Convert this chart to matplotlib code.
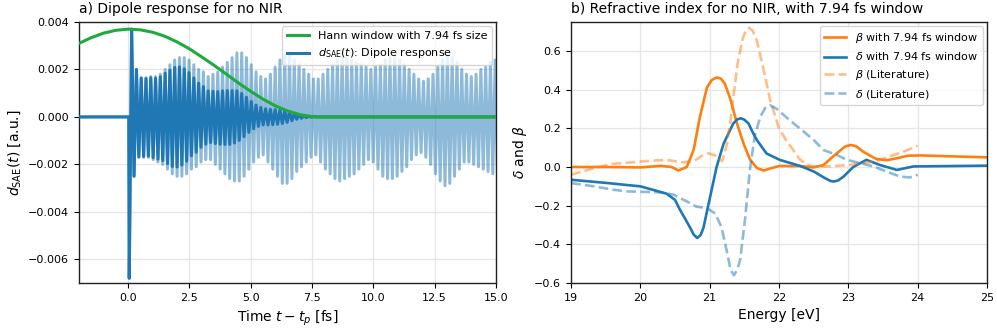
import numpy as np
import matplotlib
matplotlib.use("Agg")
import matplotlib.pyplot as plt
from matplotlib.lines import Line2D

# ---------------- data: panel a ----------------
time_start_fs = -2.0
time_end_fs = 15.6
first_cycle_fs = 0.05        # time of first (downward) spike
cycle_period_fs = 0.195      # carrier period read from the oscillation

# per-cycle extrema of the full dipole response (light blue)
light_bottom = [-0.0068, -0.0025, -0.0017, -0.0017, -0.0017, -0.0018, -0.0019, -0.0020, -0.0022, -0.0024,
                -0.0025, -0.0025, -0.0024, -0.0022, -0.0021, -0.0019, -0.0018, -0.0018, -0.0020, -0.0022,
                -0.0024, -0.0026, -0.0027, -0.0027, -0.0025, -0.0022, -0.0019, -0.0017, -0.0016, -0.0019,
                -0.0022, -0.0025, -0.0028, -0.0028, -0.0026, -0.0023, -0.0021, -0.0019, -0.0017, -0.0016,
                -0.0019, -0.0022, -0.0024, -0.0026, -0.0027, -0.0026, -0.0025, -0.0024, -0.0022, -0.0020,
                -0.0018, -0.0019, -0.0022, -0.0025, -0.0026, -0.0026, -0.0025, -0.0023, -0.0021, -0.0018,
                -0.0016, -0.0015, -0.0017, -0.0020, -0.0024, -0.0027, -0.0029, -0.0028, -0.0025, -0.0022,
                -0.0019, -0.0019, -0.0020, -0.0021, -0.0022, -0.0023, -0.0024, -0.0025]
light_top = [0.0037, 0.0020, 0.00165, 0.00165, 0.0017, 0.0017, 0.0018, 0.0020, 0.0022, 0.0024,
             0.0025, 0.0025, 0.0024, 0.0022, 0.0020, 0.0019, 0.0017, 0.0018, 0.0019, 0.0021,
             0.0023, 0.0025, 0.0027, 0.0027, 0.0025, 0.0022, 0.0019, 0.0017, 0.0016, 0.0018,
             0.0021, 0.0024, 0.0026, 0.0026, 0.0024, 0.0022, 0.0020, 0.0018, 0.0016, 0.0016,
             0.0018, 0.0020, 0.0022, 0.0024, 0.0025, 0.0025, 0.0024, 0.0023, 0.0022, 0.0021,
             0.0020, 0.0021, 0.0022, 0.0024, 0.0025, 0.0025, 0.0024, 0.0022, 0.0020, 0.0018,
             0.0016, 0.0015, 0.0016, 0.0018, 0.0021, 0.0024, 0.0026, 0.0025, 0.0023, 0.0020,
             0.0018, 0.0017, 0.0018, 0.0020, 0.0021, 0.0023, 0.0024, 0.0024]

# per-cycle extrema of the windowed dipole response (dark blue)
dark_bottom = [-0.0068, -0.0025, -0.00169, -0.00167, -0.00165, -0.00172, -0.00178, -0.00184, -0.00197, -0.00209,
               -0.00211, -0.00203, -0.00187, -0.00164, -0.00149, -0.00128, -0.00115, -0.00108, -0.00112, -0.00115,
               -0.00116, -0.00116, -0.00110, -0.00099, -0.00083, -0.00065, -0.00050, -0.00040, -0.00034, -0.00034,
               -0.00033, -0.00031, -0.00028, -0.00023, -0.00016, -0.00010, -0.00006, -0.00003, -0.00001, 0.0]
dark_top = [0.0037, 0.0020, 0.00164, 0.00162, 0.00165, 0.00163, 0.00169, 0.00184, 0.00197, 0.00209,
            0.00211, 0.00203, 0.00187, 0.00164, 0.00142, 0.00128, 0.00110, 0.00108, 0.00107, 0.00110,
            0.00111, 0.00111, 0.00110, 0.00099, 0.00083, 0.00065, 0.00050, 0.00040, 0.00034, 0.00032,
            0.00031, 0.00029, 0.00026, 0.00021, 0.00015, 0.00010, 0.00006, 0.00003, 0.00001, 0.0]

# Hann window (green)
hann_t = [-2.0, -1.5, -1.0, -0.5, 0.0, 0.5, 1.0, 1.5, 2.0, 2.5, 3.0, 3.5, 4.0, 4.5, 5.0,
          5.5, 6.0, 6.5, 7.0, 7.5, 7.8, 15.6]
hann_v = [0.0031, 0.00334, 0.00353, 0.00365, 0.0037, 0.00367, 0.00357, 0.0034, 0.00316, 0.00287,
          0.00253, 0.00218, 0.00181, 0.00143, 0.00108, 0.00075, 0.00047, 0.00025, 0.0001, 0.00001,
          0.0, 0.0]

# ---------------- data: panel b ----------------
beta_win_E = [19.0, 19.5, 20.0, 20.3, 20.45, 20.55, 20.67, 20.77, 20.86, 20.96, 21.03, 21.1, 21.16, 21.22,
              21.3, 21.39, 21.49, 21.58, 21.68, 21.78, 21.9, 22.0, 22.3, 22.5, 22.64, 22.83, 22.95, 23.03, 23.11,
              23.21, 23.4, 23.55, 23.7, 23.85, 24.04, 24.5, 25.0]
beta_win = [0.0, 0.0, -0.002, 0.006, 0.0, -0.018, 0.0, 0.09, 0.26, 0.41, 0.45, 0.463, 0.458, 0.43,
            0.35, 0.23, 0.12, 0.04, -0.005, -0.018, -0.005, 0.005, 0.005, -0.002, 0.01, 0.07, 0.105, 0.114, 0.108,
            0.08, 0.042, 0.035, 0.045, 0.058, 0.06, 0.055, 0.05]

delta_win_E = [19.0, 19.5, 20.0, 20.2, 20.38, 20.5, 20.57, 20.65, 20.72, 20.77, 20.82, 20.87, 20.91, 21.0, 21.1,
               21.2, 21.34, 21.4, 21.45, 21.5, 21.56, 21.62, 21.68, 21.82, 22.01, 22.3, 22.5, 22.65, 22.74, 22.79,
               22.85, 22.93, 23.07, 23.26, 23.46, 23.7, 23.94, 24.5, 25.0]
delta_win = [-0.066, -0.082, -0.10, -0.12, -0.138, -0.17, -0.22, -0.27, -0.315, -0.35, -0.367, -0.352, -0.315, -0.165, 0.0,
             0.12, 0.225, 0.247, 0.252, 0.245, 0.225, 0.18, 0.14, 0.07, 0.037, 0.006, -0.023, -0.055, -0.072, -0.075,
             -0.07, -0.05, 0.0, 0.037, 0.01, -0.015, 0.003, 0.005, 0.007]

beta_lit_E = [19.0, 19.33, 19.6, 20.0, 20.24, 20.43, 20.62, 20.77, 20.91, 20.98, 21.08, 21.18, 21.25,
              21.3, 21.4, 21.48, 21.53, 21.57, 21.62, 21.68, 21.78, 21.87, 22.0, 22.1, 22.2, 22.3, 22.4, 22.5,
              22.7, 23.0, 23.2, 23.4, 23.6, 23.8, 24.0]
beta_lit = [-0.04, -0.006, 0.016, 0.028, 0.035, 0.034, 0.024, 0.03, 0.063, 0.071, 0.06, 0.03, 0.12,
            0.24, 0.53, 0.67, 0.71, 0.72, 0.705, 0.655, 0.5, 0.35, 0.2, 0.14, 0.09, 0.04, 0.012, 0.003,
            0.003, 0.01, 0.02, 0.03, 0.055, 0.08, 0.11]

delta_lit_E = [19.0, 19.33, 19.6, 19.8, 20.0, 20.29, 20.48, 20.67, 20.81, 20.96, 21.08, 21.17, 21.25,
               21.3, 21.35, 21.4, 21.44, 21.51, 21.58, 21.65, 21.73, 21.8, 21.87, 21.97, 22.16, 22.3, 22.5, 22.64,
               22.83, 22.98, 23.17, 23.36, 23.55, 23.74, 23.89, 24.0]
delta_lit = [-0.083, -0.1, -0.117, -0.126, -0.128, -0.131, -0.143, -0.178, -0.205, -0.213, -0.24, -0.31, -0.44,
             -0.53, -0.56, -0.53, -0.48, -0.27, -0.015, 0.16, 0.26, 0.305, 0.32, 0.30, 0.24, 0.20, 0.14, 0.088,
             0.063, 0.037, 0.02, 0.003, -0.023, -0.049, -0.054, -0.04]

# ---------------- helpers ----------------
def zigzag(bottoms, tops, t_end):
    n = len(bottoms)
    t_b = first_cycle_fs + cycle_period_fs * np.arange(n)
    t_t = t_b + cycle_period_fs / 2
    t = np.empty(2 * n)
    y = np.empty(2 * n)
    t[0::2] = t_b
    t[1::2] = t_t
    y[0::2] = bottoms
    y[1::2] = tops
    t = np.concatenate([[time_start_fs, first_cycle_fs - 0.02], t, [t[-1] + cycle_period_fs / 2, t_end]])
    y = np.concatenate([[0.0, 0.0], y, [0.0, 0.0]])
    return t, y

plt.rcParams['font.family'] = ['DejaVu Sans']
plt.rcParams['mathtext.fontset'] = 'dejavusans'

fig = plt.figure(figsize=(9.97, 3.3), dpi=100)
ax1 = fig.add_axes([0.0792, 0.1424, 0.4183, 0.7909])
ax2 = fig.add_axes([0.5727, 0.1424, 0.4173, 0.7909])

c_blue = '#1f77b4'
c_orange = '#ff7f0e'
c_green = '#1eaa3c'

# ---------------- panel a ----------------
tl, yl = zigzag(light_bottom, light_top, time_end_fs)
td, yd = zigzag(dark_bottom, dark_top, time_end_fs)
ax1.plot(tl, yl, color=c_blue, alpha=0.5, lw=2.2, zorder=2)
ax1.plot(td, yd, color=c_blue, lw=2.2, zorder=3)
ax1.plot(hann_t, hann_v, color=c_green, lw=2.2, zorder=4)

ax1.set_xlim(-2.0, 15.0)
ax1.set_ylim(-0.007, 0.004)
ax1.set_xticks([0, 2.5, 5, 7.5, 10, 12.5, 15])
ax1.set_xticklabels(['0.0', '2.5', '5.0', '7.5', '10.0', '12.5', '15.0'])
ax1.set_yticks([-0.006, -0.004, -0.002, 0.0, 0.002, 0.004])
ax1.set_yticklabels(['\u22120.006', '\u22120.004', '\u22120.002', '0.000', '0.002', '0.004'])
ax1.set_xlabel('Time $t - t_p$ [fs]', fontsize=10)
ax1.set_ylabel(r'$d_{\mathrm{SAE}}(t)$ [a.u.]', fontsize=10)
ax1.set_title('a) Dipole response for no NIR', loc='left', fontsize=10, pad=6.5)
handles1 = [Line2D([], [], color=c_green, lw=2.2), Line2D([], [], color=c_blue, lw=2.2)]
ax1.legend(handles1, ['Hann window with 7.94 fs size', r'$d_{\mathrm{SAE}}(t)$: Dipole response'],
           loc='upper right', fontsize=8, framealpha=0.8, borderaxespad=0.4)

# ---------------- panel b ----------------
ax2.plot(beta_win_E, beta_win, color=c_orange, lw=1.9, label=r'$\beta$ with 7.94 fs window')
ax2.plot(delta_win_E, delta_win, color=c_blue, lw=1.9, label=r'$\delta$ with 7.94 fs window')
ax2.plot(beta_lit_E, beta_lit, color=c_orange, lw=1.9, ls='--', alpha=0.5, label=r'$\beta$ (Literature)')
ax2.plot(delta_lit_E, delta_lit, color=c_blue, lw=1.9, ls='--', alpha=0.5, label=r'$\delta$ (Literature)')
ax2.set_xlim(19, 25)
ax2.set_ylim(-0.6, 0.75)
ax2.set_xticks([19, 20, 21, 22, 23, 24, 25])
ax2.set_yticks([-0.6, -0.4, -0.2, 0.0, 0.2, 0.4, 0.6])
ax2.set_yticklabels(['\u22120.6', '\u22120.4', '\u22120.2', '0.0', '0.2', '0.4', '0.6'])
ax2.set_xlabel('Energy [eV]', fontsize=10)
ax2.set_ylabel(r'$\delta$ and $\beta$', fontsize=10)
ax2.set_title('b) Refractive index for no NIR, with 7.94 fs window', loc='left', fontsize=10, pad=6.5)
ax2.legend(loc='upper right', fontsize=8, framealpha=0.8, borderaxespad=0.4)

for ax in (ax1, ax2):
    ax.grid(True, color='#e6e6e6', lw=0.9)
    ax.set_axisbelow(True)
    ax.tick_params(labelsize=8, length=3.5, width=0.8)
    for s in ax.spines.values():
        s.set_color('#222222')
        s.set_linewidth(1.0)

fig.savefig('out.png', dpi=100)
